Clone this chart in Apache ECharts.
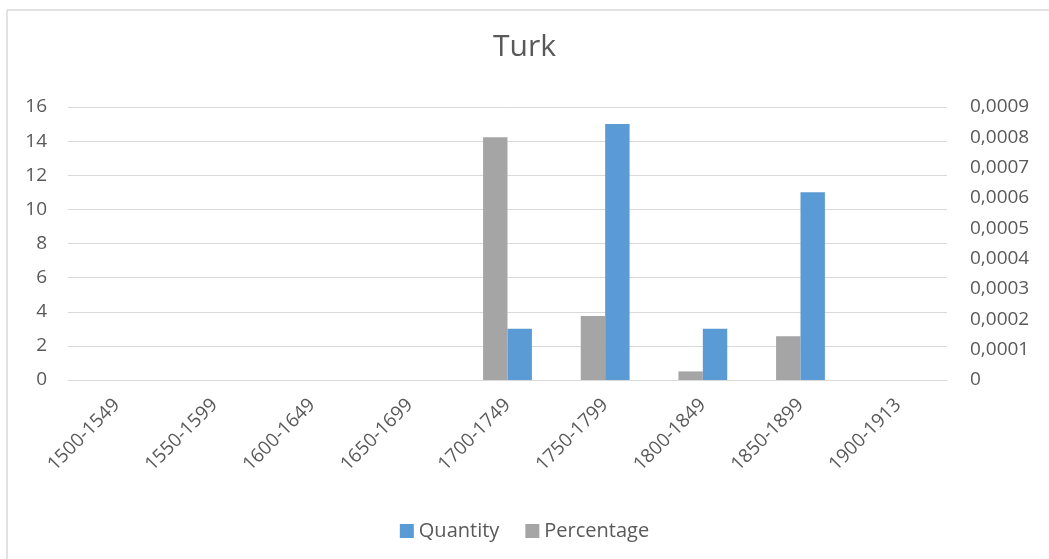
<!DOCTYPE html>
<html>
<head>
<meta charset="utf-8">
<script src="https://cdn.jsdelivr.net/npm/echarts@6/dist/echarts.min.js"></script>
<style>
html,body{margin:0;padding:0;background:#fff;}
#chart{width:1049px;height:559px;}
</style>
</head>
<body>
<div id="chart"></div>
<script>
const categories = ['1500-1549','1550-1599','1600-1649','1650-1699','1700-1749','1750-1799','1800-1849','1850-1899','1900-1913'];
const quantity = [0, 0, 0, 0, 3, 15, 3, 11, 0];
const percentage = [0, 0, 0, 0, 0.0008, 0.000211, 0.0000283, 0.000144, 0];

const FONT = '"Open Sans", "Liberation Sans", sans-serif';
const TXT = '#595959';

const chart = echarts.init(document.getElementById('chart'));
chart.setOption({
  animation: false,
  backgroundColor: '#fff',
  title: {
    text: 'Turk',
    left: 'center',
    top: 27,
    textStyle: { fontFamily: FONT, fontSize: 30, fontWeight: 'normal', color: TXT }
  },
  legend: {
    data: ['Quantity', 'Percentage'],
    bottom: 13,
    left: 'center',
    itemWidth: 14,
    itemHeight: 14,
    itemGap: 26,
    icon: 'rect',
    textStyle: { fontFamily: FONT, fontSize: 20, color: TXT }
  },
  grid: { left: 68, right: 102, top: 107, bottom: 179, containLabel: false },
  xAxis: {
    type: 'category',
    data: categories,
    axisLine: { lineStyle: { color: '#D9D9D9', width: 1 } },
    axisTick: { show: false },
    axisLabel: { rotate: 45, margin: 22, fontFamily: FONT, fontSize: 19, color: TXT, interval: 0 }
  },
  yAxis: [
    {
      type: 'value', min: 0, max: 16, interval: 2,
      axisLine: { show: false }, axisTick: { show: false },
      splitLine: { lineStyle: { color: '#D9D9D9', width: 1 } },
      axisLabel: { margin: 21, fontFamily: FONT, fontSize: 19, color: TXT }
    },
    {
      type: 'value', min: 0, max: 0.0009, interval: 0.0001,
      axisLine: { show: false }, axisTick: { show: false },
      splitLine: { show: false },
      axisLabel: {
        margin: 23, fontFamily: FONT, fontSize: 19, color: TXT,
        formatter: v => v === 0 ? '0' : v.toFixed(4).replace('.', ',')
      }
    }
  ],
  series: [
    {
      name: 'Percentage', type: 'bar', yAxisIndex: 1, data: percentage,
      itemStyle: { color: '#A5A5A5' },
      barGap: '0%', barCategoryGap: '50%'
    },
    {
      name: 'Quantity', type: 'bar', yAxisIndex: 0, data: quantity,
      itemStyle: { color: '#5B9BD5' },
      barGap: '0%', barCategoryGap: '50%'
    }
  ],
  graphic: [
    { type: 'line', shape: { x1: 7, y1: 10, x2: 1049, y2: 10 }, style: { stroke: '#D9D9D9', lineWidth: 1.5 } },
    { type: 'line', shape: { x1: 7, y1: 10, x2: 7, y2: 559 }, style: { stroke: '#D9D9D9', lineWidth: 1.5 } }
  ]
});
</script>
</body>
</html>
